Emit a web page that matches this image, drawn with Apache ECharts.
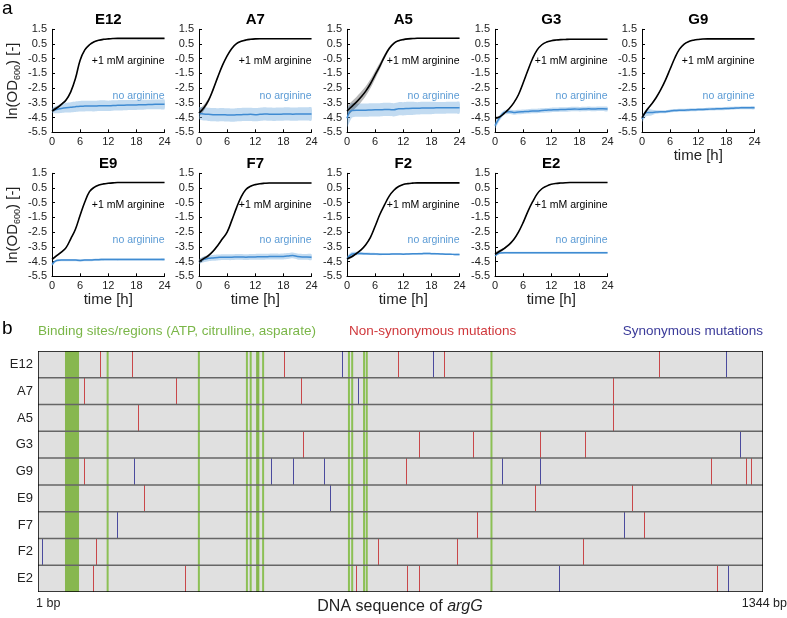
<!DOCTYPE html>
<html><head><meta charset="utf-8">
<script src="https://cdn.jsdelivr.net/npm/echarts@6/dist/echarts.min.js"></script>
<style>html,body{margin:0;padding:0;background:#fff}#c{width:787px;height:618px}</style>
</head><body><div id="c"></div>
<script>
// ---------------- DATA (panel a) ----------------
const hours = [0,1,2,3,4,5,6,7,8,9,10,11,12,13,14,15,16,17,18,19,20,21,22,23,24];
const panels = ['E12','A7','A5','G3','G9','E9','F7','F2','E2'];
const yTicks = [-5.5,-4.5,-3.5,-2.5,-1.5,-0.5,0.5,1.5];
const xTicks = [0,6,12,18,24];

const argE12 = [-4.05,-3.85,-3.6,-3.3,-2.75,-1.85,-0.6,0.1,0.45,0.65,0.76,0.82,0.85,0.87,0.88,0.88,0.88,0.88,0.88,0.88,0.88,0.88,0.88,0.88,0.88];
const argSdE12 = [0.12,0.1,0.08,0.06,0.05,0.05,0.05,0.04,0.03,0.03,0.03,0.03,0.03,0.03,0.03,0.03,0.03,0.03,0.03,0.03,0.03,0.03,0.03,0.03,0.03];
const noArgE12 = [-4.02,-3.95,-3.88,-3.83,-3.8,-3.76,-3.73,-3.72,-3.71,-3.72,-3.7,-3.69,-3.7,-3.68,-3.67,-3.66,-3.65,-3.65,-3.64,-3.63,-3.62,-3.61,-3.6,-3.6,-3.6];
const noArgSdE12 = [0.15,0.25,0.3,0.33,0.35,0.36,0.36,0.36,0.36,0.36,0.36,0.36,0.35,0.35,0.35,0.35,0.35,0.34,0.34,0.34,0.33,0.33,0.33,0.33,0.33];

const argA7 = [-4.2,-3.85,-3.35,-2.6,-1.75,-0.95,-0.3,0.2,0.52,0.68,0.77,0.82,0.85,0.86,0.86,0.86,0.86,0.86,0.86,0.86,0.86,0.86,0.86,0.86,0.86];
const argSdA7 = [0.2,0.2,0.15,0.1,0.07,0.05,0.04,0.03,0.03,0.03,0.03,0.03,0.03,0.03,0.03,0.03,0.03,0.03,0.03,0.03,0.03,0.03,0.03,0.03,0.03];
const noArgA7 = [-4.2,-4.25,-4.28,-4.3,-4.31,-4.3,-4.32,-4.33,-4.31,-4.3,-4.29,-4.28,-4.3,-4.28,-4.25,-4.27,-4.28,-4.27,-4.26,-4.25,-4.27,-4.26,-4.25,-4.25,-4.25];
const noArgSdA7 = [0.4,0.45,0.45,0.45,0.45,0.45,0.45,0.45,0.45,0.45,0.45,0.45,0.45,0.45,0.45,0.45,0.45,0.45,0.45,0.45,0.45,0.45,0.45,0.45,0.45];

const argA5 = [-4.05,-3.75,-3.45,-3.1,-2.7,-2.2,-1.6,-1.0,-0.35,0.2,0.55,0.72,0.8,0.85,0.87,0.89,0.89,0.89,0.89,0.89,0.89,0.89,0.89,0.89,0.89];
const argSdA5 = [0.35,0.35,0.35,0.35,0.33,0.3,0.27,0.22,0.16,0.1,0.07,0.05,0.04,0.04,0.04,0.04,0.04,0.04,0.04,0.04,0.04,0.04,0.04,0.04,0.04];
const noArgA5 = [-4.55,-4.02,-4.0,-4.0,-4.0,-3.98,-3.97,-3.97,-3.95,-3.95,-3.97,-3.9,-3.9,-3.88,-3.87,-3.87,-3.85,-3.85,-3.85,-3.84,-3.84,-3.84,-3.83,-3.83,-3.83];
const noArgSdA5 = [0.6,0.5,0.45,0.45,0.45,0.45,0.45,0.45,0.45,0.45,0.45,0.45,0.45,0.45,0.45,0.42,0.42,0.42,0.42,0.4,0.4,0.4,0.4,0.4,0.4];

const argG3 = [-4.55,-4.45,-4.2,-3.9,-3.5,-2.95,-2.15,-1.3,-0.5,0.1,0.45,0.63,0.72,0.77,0.8,0.81,0.82,0.82,0.82,0.82,0.82,0.82,0.82,0.82,0.82];
const argSdG3 = [0.1,0.08,0.06,0.05,0.05,0.05,0.05,0.04,0.03,0.03,0.03,0.03,0.03,0.03,0.03,0.03,0.03,0.03,0.03,0.03,0.03,0.03,0.03,0.03,0.03];
const noArgG3 = [-5.05,-4.5,-4.15,-4.1,-4.15,-4.12,-4.1,-4.08,-4.05,-4.05,-4.02,-4.0,-3.98,-3.97,-3.95,-3.95,-3.93,-3.92,-3.93,-3.92,-3.9,-3.92,-3.9,-3.9,-3.92];
const noArgSdG3 = [0.2,0.2,0.15,0.15,0.15,0.15,0.15,0.15,0.15,0.15,0.15,0.15,0.15,0.15,0.15,0.15,0.15,0.15,0.15,0.15,0.15,0.15,0.15,0.15,0.15];

const argG9 = [-4.5,-4.0,-3.6,-3.15,-2.6,-1.95,-1.2,-0.45,0.15,0.5,0.67,0.76,0.81,0.84,0.85,0.85,0.85,0.85,0.85,0.85,0.85,0.85,0.85,0.85,0.85];
const argSdG9 = [0.1,0.08,0.06,0.05,0.05,0.05,0.05,0.04,0.03,0.03,0.03,0.03,0.03,0.03,0.03,0.03,0.03,0.03,0.03,0.03,0.03,0.03,0.03,0.03,0.03];
const noArgG9 = [-4.6,-4.15,-4.15,-4.12,-4.1,-4.1,-4.05,-4.02,-4.0,-4.0,-3.98,-3.97,-3.95,-3.95,-3.93,-3.92,-3.9,-3.9,-3.88,-3.87,-3.85,-3.84,-3.83,-3.83,-3.83];
const noArgSdG9 = [0.2,0.25,0.2,0.12,0.1,0.1,0.1,0.1,0.1,0.1,0.1,0.1,0.1,0.1,0.1,0.1,0.1,0.1,0.1,0.1,0.1,0.1,0.1,0.1,0.1];

const argE9 = [-4.35,-4.1,-3.85,-3.55,-2.95,-2.3,-1.35,-0.45,0.25,0.55,0.7,0.78,0.82,0.85,0.87,0.87,0.87,0.87,0.87,0.87,0.87,0.87,0.87,0.87,0.87];
const argSdE9 = [0.08,0.06,0.05,0.05,0.05,0.05,0.05,0.04,0.03,0.03,0.03,0.03,0.03,0.03,0.03,0.03,0.03,0.03,0.03,0.03,0.03,0.03,0.03,0.03,0.03];
const noArgE9 = [-4.7,-4.42,-4.4,-4.4,-4.4,-4.4,-4.42,-4.4,-4.4,-4.38,-4.37,-4.36,-4.35,-4.35,-4.36,-4.35,-4.35,-4.35,-4.35,-4.35,-4.35,-4.35,-4.35,-4.35,-4.35];
const noArgSdE9 = [0.1,0.08,0.08,0.08,0.08,0.08,0.08,0.08,0.08,0.08,0.08,0.08,0.08,0.08,0.08,0.08,0.08,0.08,0.08,0.08,0.08,0.08,0.08,0.08,0.08];

const argF7 = [-4.5,-4.3,-4.1,-3.8,-3.4,-2.95,-2.5,-1.7,-0.85,-0.1,0.4,0.62,0.73,0.79,0.82,0.84,0.84,0.84,0.84,0.84,0.84,0.84,0.84,0.84,0.84];
const argSdF7 = [0.15,0.12,0.1,0.08,0.06,0.05,0.05,0.04,0.03,0.03,0.03,0.03,0.03,0.03,0.03,0.03,0.03,0.03,0.03,0.03,0.03,0.03,0.03,0.03,0.03];
const noArgF7 = [-4.5,-4.35,-4.28,-4.25,-4.22,-4.2,-4.2,-4.2,-4.18,-4.18,-4.2,-4.18,-4.18,-4.17,-4.17,-4.16,-4.15,-4.16,-4.15,-4.12,-4.08,-4.15,-4.18,-4.18,-4.2];
const noArgSdF7 = [0.15,0.2,0.2,0.2,0.2,0.2,0.2,0.2,0.2,0.2,0.2,0.2,0.2,0.2,0.2,0.2,0.2,0.2,0.2,0.2,0.2,0.2,0.2,0.2,0.2];

const argF2 = [-4.3,-4.17,-3.95,-3.7,-3.35,-2.85,-2.1,-1.3,-0.65,-0.05,0.35,0.6,0.74,0.8,0.83,0.85,0.85,0.85,0.85,0.85,0.85,0.85,0.85,0.85,0.85];
const argSdF2 = [0.1,0.08,0.06,0.05,0.05,0.05,0.05,0.04,0.03,0.03,0.03,0.03,0.03,0.03,0.03,0.03,0.03,0.03,0.03,0.03,0.03,0.03,0.03,0.03,0.03];
const noArgF2 = [-4.3,-4.0,-3.95,-3.95,-3.97,-3.98,-3.98,-4.0,-4.0,-4.0,-3.98,-3.98,-4.0,-3.98,-3.97,-3.97,-3.96,-3.95,-3.96,-3.97,-3.98,-4.0,-4.0,-4.02,-4.02];
const noArgSdF2 = [0.15,0.15,0.12,0.1,0.08,0.08,0.07,0.07,0.06,0.06,0.06,0.06,0.06,0.06,0.06,0.06,0.06,0.06,0.06,0.06,0.06,0.06,0.06,0.06,0.06];

const argE2 = [-4.0,-3.8,-3.6,-3.35,-3.0,-2.5,-1.85,-1.1,-0.45,0.1,0.45,0.63,0.75,0.81,0.84,0.86,0.87,0.87,0.87,0.87,0.87,0.87,0.87,0.87,0.87];
const argSdE2 = [0.12,0.1,0.08,0.06,0.05,0.05,0.05,0.04,0.03,0.03,0.03,0.03,0.03,0.03,0.03,0.03,0.03,0.03,0.03,0.03,0.03,0.03,0.03,0.03,0.03];
const noArgE2 = [-4.1,-3.92,-3.9,-3.9,-3.9,-3.9,-3.9,-3.9,-3.9,-3.9,-3.9,-3.9,-3.9,-3.9,-3.9,-3.9,-3.9,-3.9,-3.9,-3.9,-3.9,-3.9,-3.9,-3.9,-3.9];
const noArgSdE2 = [0.08,0.06,0.06,0.06,0.06,0.06,0.06,0.06,0.06,0.06,0.06,0.06,0.06,0.06,0.06,0.06,0.06,0.06,0.06,0.06,0.06,0.06,0.06,0.06,0.06];

// ---------------- DATA (panel b) ----------------
const strains = ['E12','A7','A5','G3','G9','E9','F7','F2','E2'];
const geneLength = [1, 1344];
const bindingRegions = [[51,77],[405,411]];
const bindingSites = [130,299,388,395,418,577,583,605,610,841];
const nsE12 = [115,176,456,668,754,1151];  const sE12 = [565,732,1275];
const nsA7  = [87,257,489,1067];           const sA7  = [594];
const nsA5  = [187,1067];                  const sA5  = [];
const nsG3  = [491,706,806,931,1015];      const sG3  = [1302];
const nsG9  = [87,683,1247,1313,1322];     const sG9  = [178,432,474,531,861,930];
const nsE9  = [197,922,1102];              const sE9  = [541];
const nsF7  = [815,1124];                  const sF7  = [147,1087];
const nsF2  = [108,630,778,1011];          const sF2  = [9];
const nsE2  = [102,274,590,685,706,1259];  const sE2  = [967,1280];

// ---------------- BUILD ----------------
const growth = {
  E12:[argE12,argSdE12,noArgE12,noArgSdE12], A7:[argA7,argSdA7,noArgA7,noArgSdA7],
  A5:[argA5,argSdA5,noArgA5,noArgSdA5], G3:[argG3,argSdG3,noArgG3,noArgSdG3],
  G9:[argG9,argSdG9,noArgG9,noArgSdG9], E9:[argE9,argSdE9,noArgE9,noArgSdE9],
  F7:[argF7,argSdF7,noArgF7,noArgSdF7], F2:[argF2,argSdF2,noArgF2,noArgSdF2],
  E2:[argE2,argSdE2,noArgE2,noArgSdE2]
};
const nsRows = [nsE12,nsA7,nsA5,nsG3,nsG9,nsE9,nsF7,nsF2,nsE2];
const sRows = [sE12,sA7,sA5,sG3,sG9,sE9,sF7,sF2,sE2];

const FONT = 'Liberation Sans, Arial, sans-serif';
const colLeft = [52, 199, 347, 495, 642];
const rowTop = [29.3, 173.3];
const plotW = 112.5, plotH = 103;
const BLUE = '#3f8bd2', BLUE_BAND = 'rgba(120,175,225,0.45)', BLUE_TXT = '#5b9bd5';

const grids = [], xAxes = [], yAxes = [], series = [], graphic = [];

function bandSeries(i, mean, sd, color, z) {
  return {
    type: 'custom', xAxisIndex: i, yAxisIndex: i, silent: true, animation: false, z: z, clip: true,
    data: hours.map((t,k)=>[t, mean[k]-sd[k], mean[k]+sd[k]]),
    encode: {x: 0, y: [1,2]},
    renderItem: (p, api) => {
      if (p.dataIndex !== 0) return null;
      const pts = [];
      hours.forEach((t,k) => pts.push(api.coord([t, mean[k]+sd[k]])));
      for (let k = hours.length-1; k >= 0; k--) pts.push(api.coord([hours[k], mean[k]-sd[k]]));
      return {type: 'polygon', shape: {points: pts, smooth: 0.25}, style: {fill: color}};
    }
  };
}

panels.forEach((name, i) => {
  const r = i < 5 ? 0 : 1, c = i < 5 ? i : i - 5;
  const left = colLeft[c], top = rowTop[r];
  grids.push({left: left, top: top, width: plotW, height: plotH});
  const showTime = (i >= 4);
  xAxes.push({
    gridIndex: i, type: 'value', min: xTicks[0], max: xTicks[xTicks.length-1], interval: xTicks[1]-xTicks[0],
    axisLine: {show: true, onZero: false, lineStyle: {color: '#000', width: 1}},
    axisTick: {show: true, inside: true, length: 3, lineStyle: {color: '#000'}},
    axisLabel: {fontSize: 11, color: '#222', margin: 4, fontFamily: FONT},
    splitLine: {show: false},
    name: showTime ? 'time [h]' : '', nameLocation: 'middle', nameGap: 15,
    nameTextStyle: {fontSize: 15, color: '#222', fontFamily: FONT}
  });
  yAxes.push({
    gridIndex: i, type: 'value', min: yTicks[0], max: yTicks[yTicks.length-1], interval: yTicks[1]-yTicks[0],
    axisLine: {show: true, lineStyle: {color: '#000', width: 1}},
    axisTick: {show: true, inside: true, length: 3, lineStyle: {color: '#000'}},
    axisLabel: {fontSize: 11, color: '#222', margin: 5, fontFamily: FONT, formatter: v => v.toFixed(1)},
    splitLine: {show: false},
    name: c === 0 ? '{n|ln(OD}{s|600}{n|) [-]}' : '', nameLocation: 'middle', nameGap: 30,
    nameTextStyle: {fontFamily: FONT, color: '#222', rich: {
      n: {fontSize: 15, fontFamily: FONT, color: '#222', lineHeight: 18},
      s: {fontSize: 9, fontFamily: FONT, color: '#222', lineHeight: 18, verticalAlign: 'bottom', padding: [8,0,0,0]}
    }}
  });
  const [arg, argSd, noArg, noArgSd] = growth[name];
  const mk = (extra) => Object.assign({type: 'line', xAxisIndex: i, yAxisIndex: i, symbol: 'none', smooth: 0.4, silent: true, animation: false}, extra);
  series.push(bandSeries(i, noArg, noArgSd, BLUE_BAND, 1));
  series.push(bandSeries(i, arg, argSd, 'rgba(0,0,0,0.28)', 1));
  series.push(mk({z: 3, data: hours.map((t,k)=>[t, noArg[k]]), lineStyle: {color: BLUE, width: 1.5}}));
  series.push(mk({z: 4, data: hours.map((t,k)=>[t, arg[k]]), lineStyle: {color: '#000', width: 1.6}}));

  graphic.push({type: 'text', x: left + plotW/2, y: top - 9, style: {text: name, font: 'bold 15px ' + FONT, fill: '#000', align: 'center', verticalAlign: 'middle'}});
  graphic.push({type: 'text', x: left + plotW, y: top + 32, style: {text: '+1 mM arginine', font: '10.5px ' + FONT, fill: '#000', align: 'right', verticalAlign: 'middle'}});
  graphic.push({type: 'text', x: left + plotW, y: top + 67, style: {text: 'no arginine', font: '10.5px ' + FONT, fill: BLUE_TXT, align: 'right', verticalAlign: 'middle'}});
});

// ---------- panel b ----------
const gB = panels.length;
grids.push({left: 38, top: 351, width: 725, height: 241});
xAxes.push({gridIndex: gB, type: 'value', min: geneLength[0], max: geneLength[1], show: false});
yAxes.push({gridIndex: gB, type: 'category', data: strains, inverse: true,
  axisLine: {show: false}, axisTick: {show: false}, splitLine: {show: false},
  axisLabel: {fontSize: 13, color: '#222', margin: 5, fontFamily: FONT}});

const cb = (z, data, renderItem, encode) => ({type: 'custom', xAxisIndex: gB, yAxisIndex: gB, z: z, silent: true, animation: false, clip: true, data: data, encode: encode || {x: 0, y: 1}, renderItem: renderItem});

series.push(cb(1, strains.map((s,i)=>[geneLength[0], i]), (p, api) => {
  const cs = p.coordSys; const pt = api.coord([api.value(0), api.value(1)]); const h = api.size([0,1])[1];
  return {type: 'rect', shape: {x: cs.x, y: pt[1]-h/2, width: cs.width, height: h}, style: {fill: '#e0e0e0'}};
}));
series.push(cb(2, bindingRegions.map(b=>[b[0], 0, b[1]]), (p, api) => {
  const cs = p.coordSys; const x1 = api.coord([api.value(0), 0])[0], x2 = api.coord([api.value(2), 0])[0];
  return {type: 'rect', shape: {x: x1, y: cs.y, width: Math.max(x2-x1, 2), height: cs.height}, style: {fill: '#87b74f'}};
}, {x: [0,2], y: 1}));
series.push(cb(2, bindingSites.map(b=>[b, 0]), (p, api) => {
  const cs = p.coordSys; const x = api.coord([api.value(0), 0])[0];
  return {type: 'rect', shape: {x: x-1, y: cs.y, width: 2, height: cs.height}, style: {fill: '#8cc055'}};
}));
const mutItem = (color) => (p, api) => {
  const pt = api.coord([api.value(0), api.value(1)]); const h = api.size([0,1])[1];
  const x = Math.round(pt[0]) + 0.5;
  return {type: 'line', shape: {x1: x, y1: pt[1]-h/2, x2: x, y2: pt[1]+h/2}, style: {stroke: color, lineWidth: 1}};
};
const nsData = [], sData = [];
nsRows.forEach((arr, i) => arr.forEach(b => nsData.push([b, i])));
sRows.forEach((arr, i) => arr.forEach(b => sData.push([b, i])));
series.push(cb(3, nsData, mutItem('#c9474a')));
series.push(cb(3, sData, mutItem('#4b4b9e')));
series.push(cb(4, strains.slice(0, -1).map((s,i)=>[geneLength[0], i]), (p, api) => {
  const cs = p.coordSys; const pt = api.coord([api.value(0), api.value(1)]); const h = api.size([0,1])[1];
  const y = pt[1] + h/2;
  return {type: 'line', shape: {x1: cs.x, y1: y, x2: cs.x + cs.width, y2: y}, style: {stroke: '#666', lineWidth: 1.5}};
}));
series.push(cb(5, [[geneLength[0], 0]], (p, api) => {
  const cs = p.coordSys;
  return {type: 'rect', shape: {x: cs.x, y: cs.y, width: cs.width, height: cs.height}, style: {fill: 'none', stroke: '#000', lineWidth: 1.5}};
}));

graphic.push({type: 'text', x: 2, y: 9, style: {text: 'a', font: '19px ' + FONT, fill: '#000', align: 'left', verticalAlign: 'middle'}});
graphic.push({type: 'text', x: 2, y: 329, style: {text: 'b', font: '19px ' + FONT, fill: '#000', align: 'left', verticalAlign: 'middle'}});
graphic.push({type: 'text', x: 38, y: 331, style: {text: 'Binding sites/regions (ATP, citrulline, asparate)', font: '13.5px ' + FONT, fill: '#7ab648', align: 'left', verticalAlign: 'middle'}});
graphic.push({type: 'text', x: 349, y: 331, style: {text: 'Non-synonymous mutations', font: '13.5px ' + FONT, fill: '#d0383c', align: 'left', verticalAlign: 'middle'}});
graphic.push({type: 'text', x: 763, y: 331, style: {text: 'Synonymous mutations', font: '13.5px ' + FONT, fill: '#3b3b9a', align: 'right', verticalAlign: 'middle'}});
graphic.push({type: 'text', x: 36, y: 604, style: {text: '1 bp', font: '12.5px ' + FONT, fill: '#222', align: 'left', verticalAlign: 'middle'}});
graphic.push({type: 'text', x: 787, y: 604, style: {text: '1344 bp', font: '12.5px ' + FONT, fill: '#222', align: 'right', verticalAlign: 'middle'}});
graphic.push({type: 'text', x: 400, y: 607, style: {text: '{n|DNA sequence of }{i|argG}', align: 'center', verticalAlign: 'middle',
  rich: {n: {fontSize: 16, fontFamily: FONT, fill: '#222', color: '#222'}, i: {fontSize: 16, fontFamily: FONT, fontStyle: 'italic', fill: '#222', color: '#222'}}}});

const chart = echarts.init(document.getElementById('c'), null, {renderer: 'canvas'});
chart.setOption({
  animation: false,
  backgroundColor: '#fff',
  textStyle: {fontFamily: FONT},
  grid: grids, xAxis: xAxes, yAxis: yAxes, series: series, graphic: graphic
});
</script></body></html>
